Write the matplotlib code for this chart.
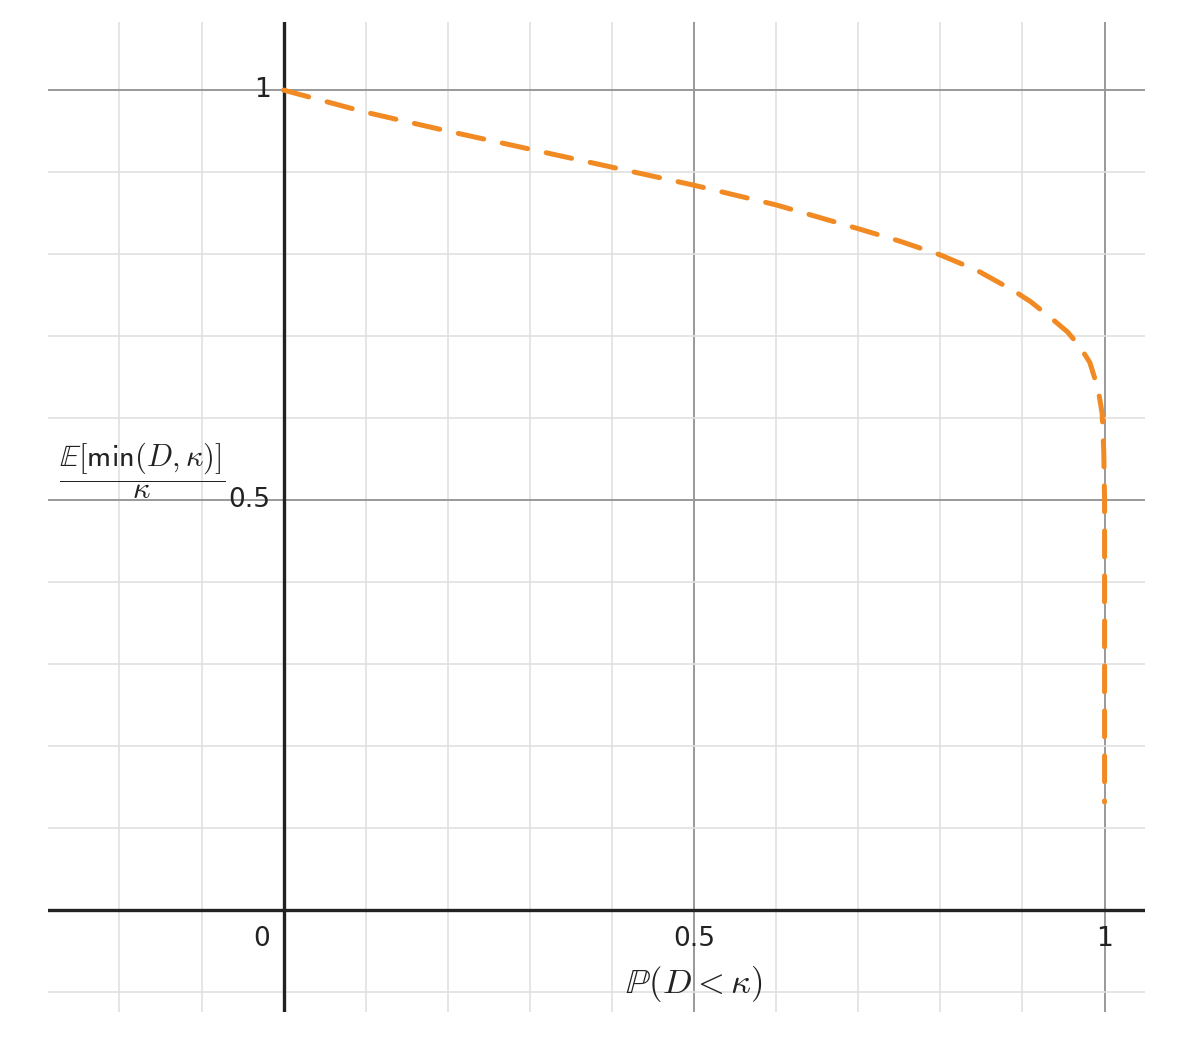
import matplotlib.pyplot as plt
import numpy as np

plt.rcParams['mathtext.fontset'] = 'cm'

# curve
p_below = [0.0, 0.1, 0.2, 0.3, 0.4, 0.5, 0.6, 0.7, 0.75, 0.8, 0.845, 0.89,
           0.91, 0.935, 0.955, 0.97, 0.982, 0.992, 0.997, 0.999, 1.0, 1.0]
ratio = [1.0, 0.973, 0.950, 0.928, 0.906, 0.884, 0.860, 0.831, 0.816, 0.799,
         0.780, 0.755, 0.742, 0.722, 0.705, 0.687, 0.668, 0.636, 0.606, 0.56,
         0.5, 0.132]

x_ticks = [0.5, 1]
y_ticks = [0.5, 1]
x_tick_labels = ["0.5", "1"]
y_tick_labels = ["0.5", "1"]

XMIN, XMAX = -0.287, 1.049
YMIN, YMAX = -0.124, 1.083

fig = plt.figure(figsize=(12, 10.49), dpi=100)
ax = fig.add_axes([0.04, 0.0353, 0.914, 0.9437])
ax.set_xlim(XMIN, XMAX)
ax.set_ylim(YMIN, YMAX)
for s in ax.spines.values():
    s.set_visible(False)
ax.set_xticks([])
ax.set_yticks([])

def is_major(v):
    return abs(v * 2 - round(v * 2)) < 1e-6

for v in np.round(np.arange(-0.2, 1.05, 0.1), 2):
    ax.axvline(v, color="#999999" if is_major(v) else "#e0e0e0",
               lw=1.4 if is_major(v) else 1.2, zorder=1)
for v in np.round(np.arange(-0.1, 1.05, 0.1), 2):
    ax.axhline(v, color="#999999" if is_major(v) else "#e0e0e0",
               lw=1.4 if is_major(v) else 1.2, zorder=1)

ax.axhline(0, color="#222222", lw=2.4, zorder=2)
ax.axvline(0, color="#222222", lw=2.4, zorder=2)

ax.plot(p_below, ratio, color="#f28a24", lw=3.6, dashes=(5.2, 3.8),
        solid_capstyle="round", dash_capstyle="round", zorder=3)

fs = 19
for v, lab in zip(x_ticks, x_tick_labels):
    ax.text(v, -0.019, lab, ha="center", va="top", fontsize=fs, color="#222222")
for v, lab in zip(y_ticks, y_tick_labels):
    ax.text(-0.016, v, lab, ha="right", va="center", fontsize=fs, color="#222222")
ax.text(-0.016, -0.019, "0", ha="right", va="top", fontsize=fs, color="#222222")

ax.text(0.5, -0.09, r"$\mathbb{P}(D<\kappa)$", ha="center", va="center",
        fontsize=25, color="#222222")
ax.text(-0.172, 0.536, r"$\dfrac{\mathbb{E}[\mathsf{min}(D,\kappa)]}{\kappa}$",
        ha="center", va="center", fontsize=22, color="#222222")

fig.savefig("out.png", dpi=100, facecolor="white")
